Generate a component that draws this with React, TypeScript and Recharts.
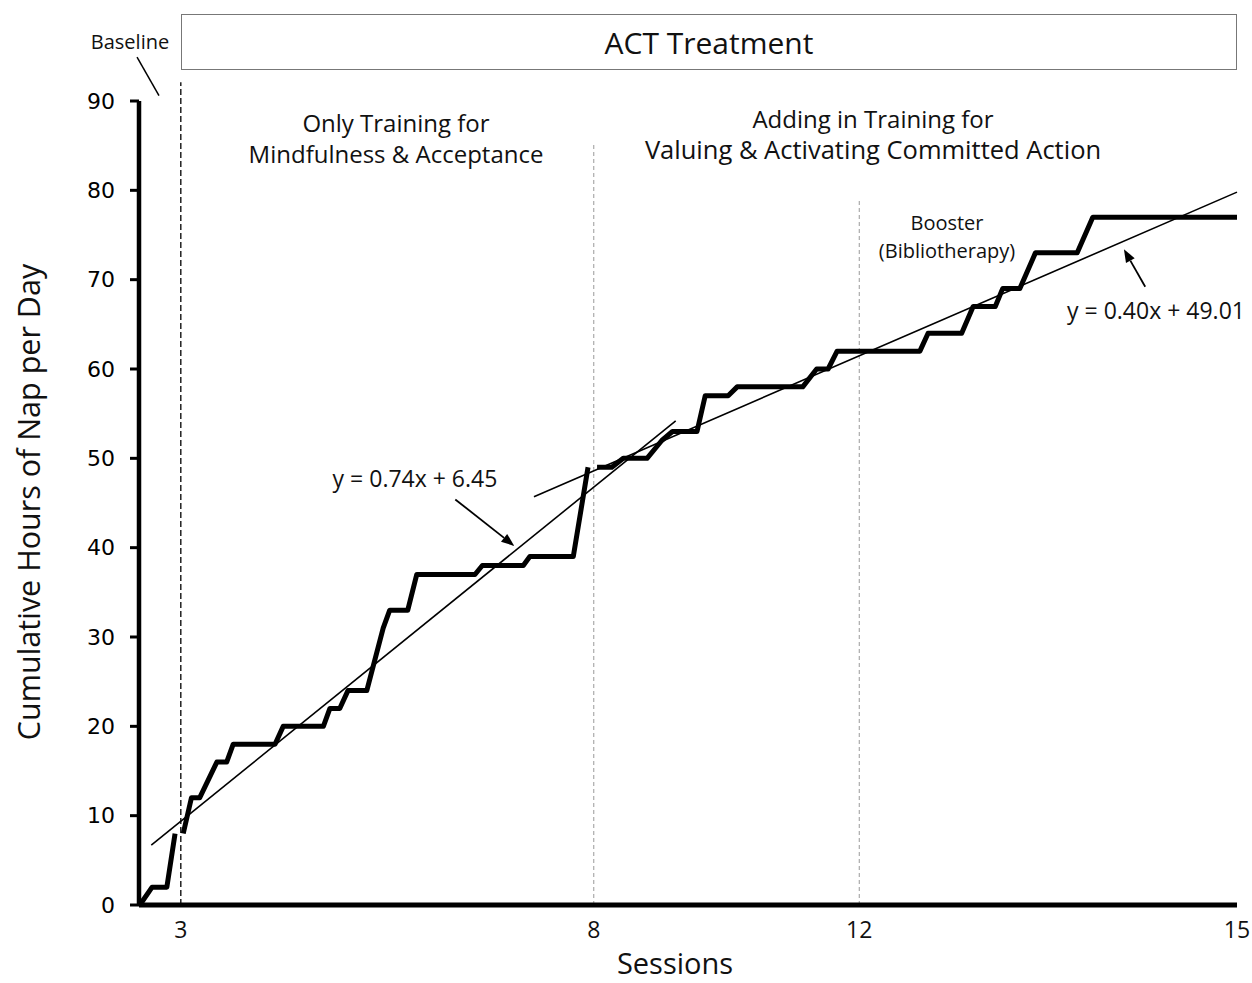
import React from 'react';
import { LineChart, Line, XAxis, YAxis, ReferenceLine } from 'recharts';

const baselineDays = [0.1, 1.6, 3.4, 4.4];
const baselineHours = [0, 2, 2, 8];

const phase1Days = [5.4, 6.4, 7.4, 9.5, 10.7, 11.5, 16.6, 17.6, 22.5, 23.3, 24.5, 25.5, 27.8, 29.8, 30.6, 32.8, 33.9, 41.0, 41.9, 46.9, 47.7, 53.0, 54.8];
const phase1Hours = [8, 12, 12, 16, 16, 18, 18, 20, 20, 22, 22, 24, 24, 31, 33, 33, 37, 37, 38, 38, 39, 39, 49];

const phase2Days = [55.9, 57.7, 59.1, 62.0, 63.8, 65.1, 68.1, 69.1, 71.9, 73.0, 81.0, 82.7, 84.1, 85.2, 95.3, 96.3, 100.4, 101.8, 104.5, 105.4, 107.5, 109.4, 114.5, 116.4, 134];
const phase2Hours = [49, 49, 50, 50, 52, 53, 53, 57, 57, 58, 58, 60, 60, 62, 62, 64, 64, 67, 67, 69, 69, 73, 73, 77, 77];

const trend1Days = [1.5, 65.5];
const trend1Hours = [6.7, 54.2];
const trend2Days = [48.2, 134];
const trend2Hours = [45.7, 79.8];

const sessionDays = [5.1, 55.5, 87.9, 134];
const sessionLabels = ['3', '8', '12', '15'];
const hourTicks = [0, 10, 20, 30, 40, 50, 60, 70, 80, 90];

const toPoints = (xs: number[], ys: number[]) => xs.map((x, i) => ({ x, y: ys[i] }));

const baseline = toPoints(baselineDays, baselineHours);
const phase1 = toPoints(phase1Days, phase1Hours);
const phase2 = toPoints(phase2Days, phase2Hours);
const trend1 = toPoints(trend1Days, trend1Hours);
const trend2 = toPoints(trend2Days, trend2Hours);

const FONT = '"Open Sans", sans-serif';

const Arrow = (props: any) => {
  const { x1, y1, x2, y2 } = props;
  const a = Math.atan2(y2 - y1, x2 - x1);
  const L = 13;
  const W = 5;
  const bx = x2 - L * Math.cos(a);
  const by = y2 - L * Math.sin(a);
  const pts = `${x2},${y2} ${bx + W * Math.sin(a)},${by - W * Math.cos(a)} ${bx - W * Math.sin(a)},${by + W * Math.cos(a)}`;
  return (
    <g>
      <line x1={x1} y1={y1} x2={bx} y2={by} stroke="#000" strokeWidth={1.8} />
      <polygon points={pts} fill="#000" />
    </g>
  );
};

const Note = ({ x, y, size, children }: { x: number; y: number; size: number; children: React.ReactNode }) => (
  <div
    style={{
      position: 'absolute',
      left: x,
      top: y,
      transform: 'translate(-50%, -50%)',
      fontFamily: FONT,
      fontSize: size,
      lineHeight: 1,
      whiteSpace: 'nowrap',
      color: '#111',
    }}
  >
    {children}
  </div>
);

export default function App() {
  return (
    <div style={{ position: 'absolute', left: 0, top: 0, width: 1252, height: 983, background: '#fff' }}>
      <LineChart width={1252} height={983} margin={{ top: 101, right: 15, bottom: 48, left: 79 }}>
        <XAxis
          dataKey="x"
          type="number"
          domain={[0, 134]}
          ticks={sessionDays}
          interval={0}
          tickFormatter={(v) => sessionLabels[sessionDays.indexOf(v)]}
          height={30}
          axisLine={{ stroke: '#000', strokeWidth: 5 }}
          tickLine={false}
          tickSize={6}
          tickMargin={11}
          tick={{ fill: '#111', fontSize: 23, fontFamily: FONT }}
        />
        <YAxis
          type="number"
          domain={[0, 90]}
          ticks={hourTicks}
          interval={0}
          width={60}
          axisLine={{ stroke: '#000', strokeWidth: 4.5 }}
          tickLine={{ stroke: '#000', strokeWidth: 3 }}
          tickSize={9}
          tickMargin={15}
          tick={{ fill: '#000', fontSize: 22, fontFamily: '"DejaVu Sans", sans-serif' }}
        />

        <ReferenceLine
          segment={[{ x: 5.1, y: 0 }, { x: 5.1, y: 92.1 }]}
          stroke="#222"
          strokeWidth={1.5}
          strokeDasharray="6 3"
          ifOverflow="visible"
        />
        <ReferenceLine
          segment={[{ x: 55.5, y: 0 }, { x: 55.5, y: 85.3 }]}
          stroke="#999"
          strokeWidth={1}
          strokeDasharray="4 3"
          ifOverflow="visible"
        />
        <ReferenceLine
          segment={[{ x: 87.9, y: 0 }, { x: 87.9, y: 78.9 }]}
          stroke="#999"
          strokeWidth={1}
          strokeDasharray="4 3"
          ifOverflow="visible"
        />
        <ReferenceLine
          segment={[{ x: -0.24, y: 94.9 }, { x: 2.44, y: 90.6 }]}
          stroke="#000"
          strokeWidth={1.5}
          ifOverflow="visible"
        />
        <ReferenceLine segment={[{ x: 38.6, y: 45.4 }, { x: 45.8, y: 40.2 }]} shape={Arrow} ifOverflow="visible" />
        <ReferenceLine segment={[{ x: 122.8, y: 69.2 }, { x: 120.2, y: 73.4 }]} shape={Arrow} ifOverflow="visible" />

        <Line data={trend1} dataKey="y" stroke="#000" strokeWidth={1.6} dot={false} isAnimationActive={false} />
        <Line data={trend2} dataKey="y" stroke="#000" strokeWidth={1.6} dot={false} isAnimationActive={false} />

        <Line data={baseline} dataKey="y" stroke="#000" strokeWidth={5} strokeLinejoin="round" dot={false} isAnimationActive={false} />
        <Line data={phase1} dataKey="y" stroke="#000" strokeWidth={5} strokeLinejoin="round" dot={false} isAnimationActive={false} />
        <Line data={phase2} dataKey="y" stroke="#000" strokeWidth={5} strokeLinejoin="round" dot={false} isAnimationActive={false} />
      </LineChart>

      <div
        style={{
          position: 'absolute',
          left: 181,
          top: 14,
          width: 1056,
          height: 56,
          boxSizing: 'border-box',
          border: '1.5px solid #777',
          display: 'flex',
          alignItems: 'center',
          justifyContent: 'center',
          fontFamily: FONT,
          fontSize: 30,
          color: '#111',
        }}
      >
        ACT Treatment
      </div>

      <Note x={130} y={42} size={20}>Baseline</Note>
      <Note x={396} y={123} size={24}>Only Training for</Note>
      <Note x={396} y={154} size={24}>Mindfulness &amp; Acceptance</Note>
      <Note x={873} y={119} size={24}>Adding in Training for</Note>
      <Note x={873} y={150} size={25.5}>Valuing &amp; Activating Committed Action</Note>
      <Note x={947} y={223} size={20}>Booster</Note>
      <Note x={947} y={251} size={20}>(Bibliotherapy)</Note>
      <Note x={415} y={478} size={23}>y = 0.74x + 6.45</Note>
      <Note x={1156} y={310} size={23}>y = 0.40x + 49.01</Note>
      <Note x={675} y={962} size={29}>Sessions</Note>

      <div
        style={{
          position: 'absolute',
          left: 28,
          top: 502,
          transform: 'translate(-50%, -50%) rotate(-90deg)',
          fontFamily: FONT,
          fontSize: 30.5,
          lineHeight: 1,
          whiteSpace: 'nowrap',
          color: '#111',
        }}
      >
        Cumulative Hours of Nap per Day
      </div>
    </div>
  );
}
